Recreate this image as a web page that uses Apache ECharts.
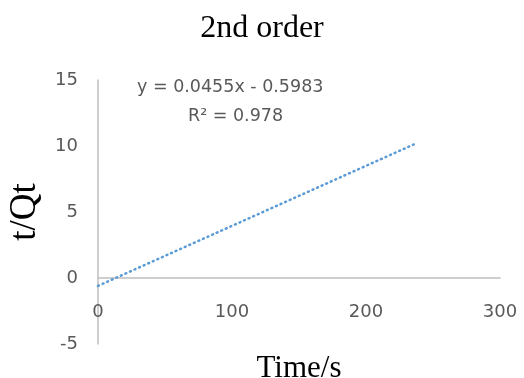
<!DOCTYPE html>
<html>
<head>
<meta charset="utf-8">
<script src="https://cdn.jsdelivr.net/npm/echarts@6/dist/echarts.min.js"></script>
<style>
  html, body { margin: 0; padding: 0; background: #fff; }
  #chart { width: 524px; height: 378px; }
</style>
</head>
<body>
<div id="chart"></div>
<script>
// trendline end points (y = 0.0455x - 0.5983)
var trendX = [0, 237];
var trendY = [-0.598, 10.18];
var equationText = 'y = 0.0455x - 0.5983';
var r2Text = 'R\u00B2 = 0.978';

var trendData = trendX.map(function (x, i) { return [x, trendY[i]]; });

var myChart = echarts.init(document.getElementById('chart'));
var labelColor = '#595959';
var lineColor = '#bfbfbf';
var option = {
    animation: false,
    title: {
        text: '2nd order',
        left: 'center',
        top: 8,
        textStyle: {
            fontFamily: 'Liberation Serif',
            fontWeight: 'normal',
            fontSize: 32,
            color: '#000'
        }
    },
    grid: { left: 98, right: 24, top: 80, bottom: 34, outerBoundsMode: 'none' },
    xAxis: [
        {
            // zero line
            type: 'value',
            min: 0, max: 300, interval: 100,
            axisLine: { onZero: true, lineStyle: { color: lineColor, width: 1.5 } },
            axisTick: { show: false },
            splitLine: { show: false },
            axisLabel: { show: false }
        },
        {
            // tick labels and name at the bottom
            type: 'value',
            position: 'bottom',
            min: 0, max: 300, interval: 100,
            name: 'Time/s',
            nameLocation: 'middle',
            nameGap: 9,
            nameTextStyle: { fontFamily: 'Liberation Serif', fontSize: 31, color: '#000' },
            axisLine: { show: false, onZero: false },
            axisTick: { show: false },
            splitLine: { show: false },
            axisLabel: { inside: true, margin: 23, fontFamily: 'DejaVu Sans', fontSize: 18, color: labelColor }
        }
    ],
    yAxis: {
        type: 'value',
        min: -5, max: 15, interval: 5,
        name: 't/Qt',
        nameLocation: 'middle',
        nameGap: 54,
        nameTextStyle: { fontFamily: 'Liberation Serif', fontSize: 37, color: '#000' },
        axisLine: { show: true, onZero: false, lineStyle: { color: lineColor, width: 1.5 } },
        axisTick: { show: false },
        splitLine: { show: false },
        axisLabel: { margin: 20, fontFamily: 'DejaVu Sans', fontSize: 18, color: labelColor }
    },
    graphic: [
        {
            type: 'text', left: 137, top: 78,
            style: { text: equationText, fontFamily: 'DejaVu Sans', fontSize: 17.5, fill: labelColor }
        },
        {
            type: 'text', left: 188, top: 107,
            style: { text: r2Text, fontFamily: 'DejaVu Sans', fontSize: 17.5, fill: labelColor }
        }
    ],
    series: [
        {
            type: 'line',
            xAxisIndex: 0,
            data: trendData,
            symbol: 'none',
            lineStyle: { color: '#5b9bd5', width: 2.5, type: [1, 4], cap: 'round' }
        }
    ]
};
myChart.setOption(option);
</script>
</body>
</html>
